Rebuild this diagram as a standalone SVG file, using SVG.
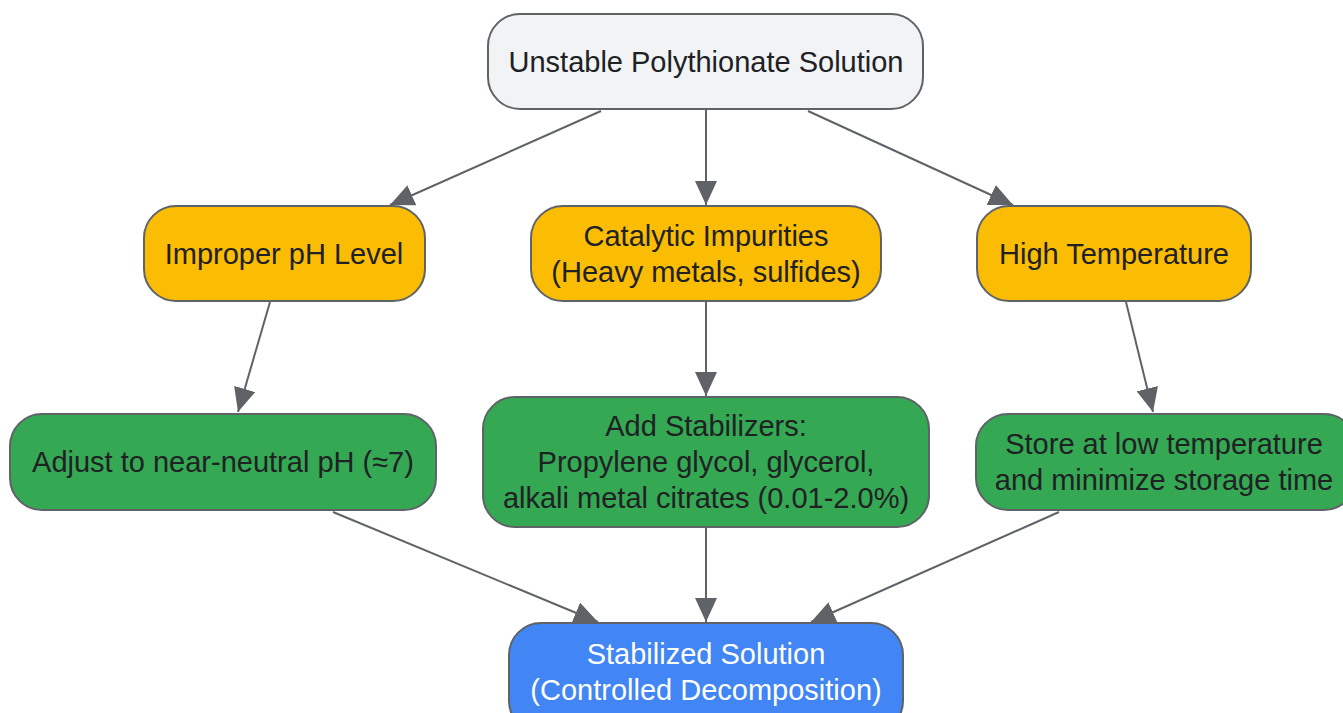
<svg xmlns="http://www.w3.org/2000/svg" width="1343" height="713" viewBox="0 0 1343 713">
<defs>
<marker id="ah" viewBox="0 0 24 22" refX="24" refY="11" markerWidth="24" markerHeight="22" markerUnits="userSpaceOnUse" orient="auto">
<path d="M0,0 L24,11 L0,22 Z" fill="#5f6368"/>
</marker>
<style>
.n rect{stroke:#5f6368;stroke-width:2}
.t{font-family:"Liberation Sans",Arial,sans-serif;font-size:29px;fill:#202124;text-anchor:middle;dominant-baseline:central}
.w{fill:#ffffff}
.e{stroke:#5f6368;stroke-width:2;fill:none;marker-end:url(#ah)}
</style>
</defs>
<rect width="1343" height="713" fill="#ffffff"/>
<g id="connectors">
<line class="e" x1="601" y1="111" x2="390" y2="205"/>
<line class="e" x1="706" y1="110" x2="706" y2="205"/>
<line class="e" x1="808" y1="111" x2="1013" y2="205"/>
<line class="e" x1="270" y1="302" x2="238" y2="412"/>
<line class="e" x1="706" y1="302" x2="706" y2="396"/>
<line class="e" x1="1126" y1="302" x2="1153" y2="412"/>
<line class="e" x1="333" y1="512" x2="598" y2="622"/>
<line class="e" x1="706" y1="528" x2="706" y2="622"/>
<line class="e" x1="1059" y1="512" x2="811" y2="622"/>
</g>
<g id="n_unstable" class="n">
<rect x="488" y="14" width="435" height="95" rx="32" fill="#f1f3f4"/>
<text class="t" x="706" y="62">Unstable Polythionate Solution</text>
</g>
<g id="n_ph" class="n">
<rect x="144" y="206" width="281" height="95" rx="32" fill="#fbbc04"/>
<text class="t" x="284" y="254">Improper pH Level</text>
</g>
<g id="n_cat" class="n">
<rect x="531" y="206" width="350" height="95" rx="32" fill="#fbbc04"/>
<text class="t" x="706" y="236">Catalytic Impurities</text>
<text class="t" x="706" y="272">(Heavy metals, sulfides)</text>
</g>
<g id="n_temp" class="n">
<rect x="977" y="206" width="274" height="95" rx="32" fill="#fbbc04"/>
<text class="t" x="1114" y="254">High Temperature</text>
</g>
<g id="n_adjust" class="n">
<rect x="10" y="414" width="426" height="96" rx="32" fill="#34a853"/>
<text class="t" x="223" y="462">Adjust to near-neutral pH (≈7)</text>
</g>
<g id="n_add" class="n">
<rect x="483" y="397" width="446" height="130" rx="32" fill="#34a853"/>
<text class="t" x="706" y="426">Add Stabilizers:</text>
<text class="t" x="706" y="462">Propylene glycol, glycerol,</text>
<text class="t" x="706" y="498">alkali metal citrates (0.01-2.0%)</text>
</g>
<g id="n_store" class="n">
<rect x="976" y="414" width="380" height="96" rx="32" fill="#34a853"/>
<text class="t" x="1164" y="444">Store at low temperature</text>
<text class="t" x="1164" y="480">and minimize storage time</text>
</g>
<g id="n_stab" class="n">
<rect x="509" y="623" width="394" height="110" rx="32" fill="#4285f4"/>
<text class="t w" x="706" y="654">Stabilized Solution</text>
<text class="t w" x="706" y="690">(Controlled Decomposition)</text>
</g>
</svg>
